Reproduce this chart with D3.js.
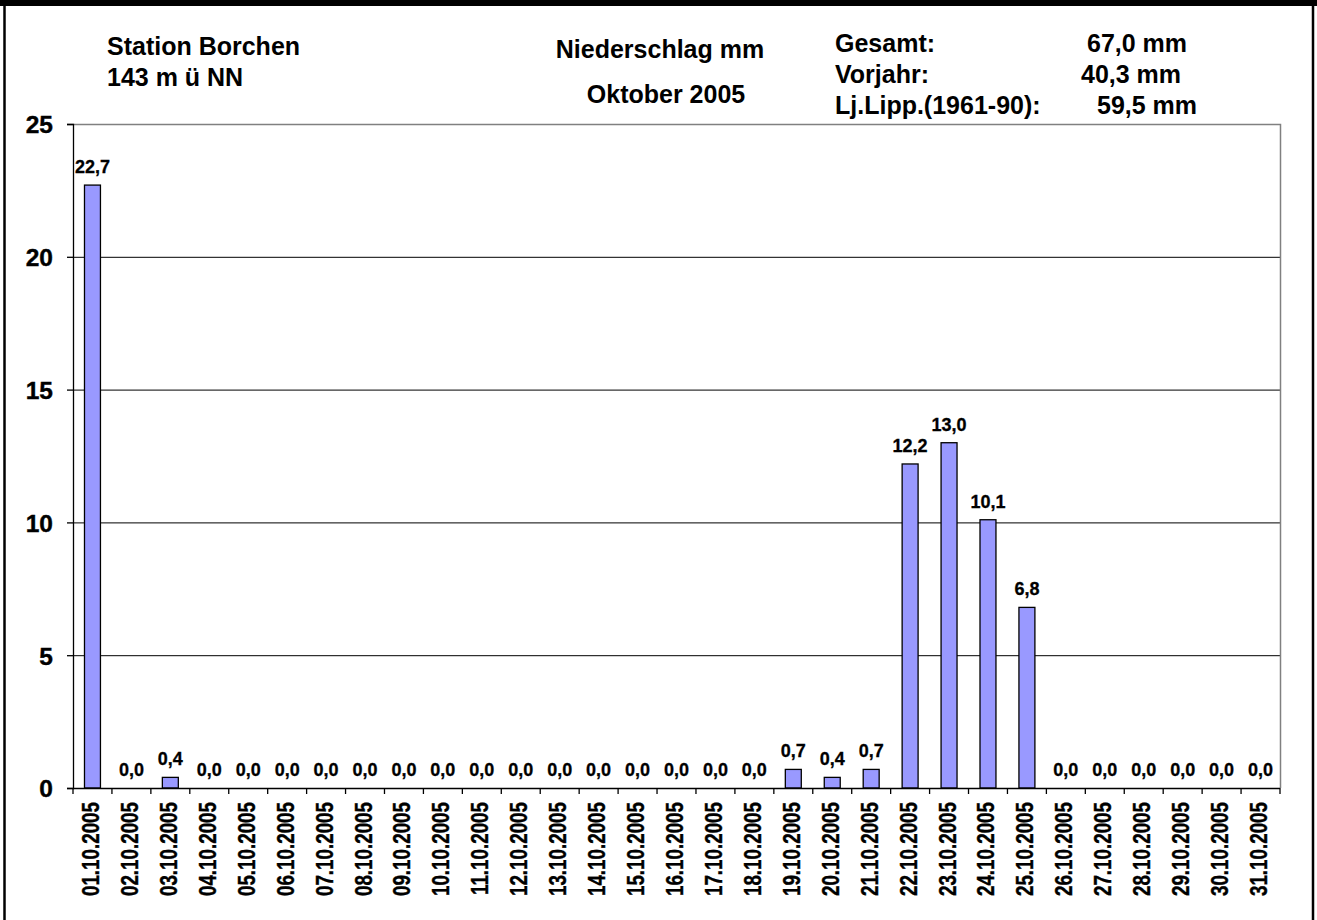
<!DOCTYPE html>
<html>
<head>
<meta charset="utf-8">
<script src="https://cdn.jsdelivr.net/npm/d3@7"></script>
<style>
  html, body { margin: 0; padding: 0; background: #fff; }
  svg { display: block; }
  text { font-family: "Liberation Sans", Arial, sans-serif; font-weight: bold; fill: #000; }
</style>
</head>
<body>
<script>
const categories = ["01.10.2005","02.10.2005","03.10.2005","04.10.2005","05.10.2005","06.10.2005","07.10.2005","08.10.2005","09.10.2005","10.10.2005","11.10.2005","12.10.2005","13.10.2005","14.10.2005","15.10.2005","16.10.2005","17.10.2005","18.10.2005","19.10.2005","20.10.2005","21.10.2005","22.10.2005","23.10.2005","24.10.2005","25.10.2005","26.10.2005","27.10.2005","28.10.2005","29.10.2005","30.10.2005","31.10.2005"];
const values = [22.7,0.0,0.4,0.0,0.0,0.0,0.0,0.0,0.0,0.0,0.0,0.0,0.0,0.0,0.0,0.0,0.0,0.0,0.7,0.4,0.7,12.2,13.0,10.1,6.8,0.0,0.0,0.0,0.0,0.0,0.0];
const yTicks = [0,5,10,15,20,25];
const stationLines = ["Station Borchen","143 m ü NN"];
const titleLines = ["Niederschlag mm","Oktober 2005"];
const statLabels = ["Gesamt:","Vorjahr:","Lj.Lipp.(1961-90):"];
const statValues = ["67,0 mm","40,3 mm","59,5 mm"];

const W = 1317, H = 920;
const plot = {left: 73, right: 1280, top: 124, bottom: 788};

const svg = d3.select("body").append("svg").attr("width", W).attr("height", H);

// outer frame
svg.append("rect").attr("x",0).attr("y",0).attr("width",W).attr("height",6).attr("fill","#000");
svg.append("line").attr("x1",4.5).attr("x2",4.5).attr("y1",0).attr("y2",H).attr("stroke","#000").attr("stroke-width",2.5);
svg.append("line").attr("x1",1313).attr("x2",1313).attr("y1",0).attr("y2",H).attr("stroke","#000").attr("stroke-width",2.5);

const fmt = v => d3.format(".1f")(v).replace(".", ",");

const x = d3.scaleBand().domain(categories).range([plot.left, plot.right]).paddingInner(0.59).paddingOuter(0.295);
const xb = d3.scaleBand().domain(categories).range([plot.left, plot.right]);
const y = d3.scaleLinear().domain([0,25]).range([plot.bottom, plot.top]);

// gridlines
svg.append("g").selectAll("line").data(yTicks.filter(t => t>0 && t<25)).join("line")
  .attr("x1", plot.left).attr("x2", plot.right)
  .attr("y1", d => y(d)+0.5).attr("y2", d => y(d)+0.5)
  .attr("stroke","#000").attr("stroke-width",1);

// plot border (top & right)
svg.append("path")
  .attr("d", `M${plot.left},${y(25)+0.5}H${plot.right+0.5}V${plot.bottom}`)
  .attr("fill","none").attr("stroke","#808080").attr("stroke-width",1.5);

// bars
svg.append("g").selectAll("rect").data(values).join("rect")
  .attr("x", (d,i) => x(categories[i]))
  .attr("width", x.bandwidth())
  .attr("y", d => y(d))
  .attr("height", d => y(0) - y(d))
  .attr("fill","#9999ff").attr("stroke","#000").attr("stroke-width",1.3);

// value labels
svg.append("g").selectAll("text").data(values).join("text")
  .attr("x", (d,i) => x(categories[i]) + x.bandwidth()/2)
  .attr("y", d => y(d) - 12)
  .attr("text-anchor","middle")
  .attr("font-size", 18)
  .attr("stroke","#000").attr("stroke-width",0.3)
  .text(d => fmt(d));

// y axis
const yAxis = d3.axisLeft(y).tickValues(yTicks).tickSize(6).tickPadding(14).tickFormat(d3.format("d"));
const gy = svg.append("g").attr("transform", `translate(${plot.left},0)`).call(yAxis);
gy.select(".domain").attr("stroke","#000").attr("stroke-width",1.3);
gy.selectAll(".tick line").attr("stroke","#000").attr("stroke-width",1.3);
gy.selectAll(".tick text").attr("font-size",24.5).attr("font-family","Liberation Sans, Arial, sans-serif").attr("font-weight","bold")
  .attr("stroke","#000").attr("stroke-width",0.4).attr("dy","0.36em");

// x axis
const gx = svg.append("g").attr("transform", `translate(0,${plot.bottom})`);
gx.append("line").attr("x1",plot.left).attr("x2",plot.right).attr("y1",0.5).attr("y2",0.5).attr("stroke","#000").attr("stroke-width",1.3);
gx.selectAll("line.tk").data(categories.concat(["end"])).join("line").attr("class","tk")
  .attr("x1", (d,i) => i < categories.length ? xb(d) : plot.right)
  .attr("x2", (d,i) => i < categories.length ? xb(d) : plot.right)
  .attr("y1",0).attr("y2",6).attr("stroke","#000").attr("stroke-width",1.3);
gx.selectAll("text").data(categories).join("text")
  .attr("transform", d => `translate(${xb(d)+xb.bandwidth()/2 + 6.5},14) rotate(-90) scale(0.8,1)`)
  .attr("text-anchor","end")
  .attr("font-size", 23.5)
  .attr("stroke","#000").attr("stroke-width",0.4)
  .text(d => d);

// titles
const tg = svg.append("g");
tg.selectAll("text.st").data(stationLines).join("text").attr("class","st")
  .attr("x",107).attr("y",(d,i)=>[55,86][i]).attr("font-size",25).text(d=>d);
tg.selectAll("text.tt").data(titleLines).join("text").attr("class","tt")
  .attr("x",(d,i)=>[660,666][i]).attr("y",(d,i)=>[58,103][i]).attr("text-anchor","middle").attr("font-size",25).text(d=>d);
tg.selectAll("text.sl").data(statLabels).join("text").attr("class","sl")
  .attr("x",835).attr("y",(d,i)=>[52,83,114][i]).attr("font-size",25).text(d=>d);
tg.selectAll("text.sv").data(statValues).join("text").attr("class","sv")
  .attr("x",(d,i)=>[1087,1081,1097][i]).attr("y",(d,i)=>[52,83,114][i]).attr("font-size",25).text(d=>d);
</script>
</body>
</html>
